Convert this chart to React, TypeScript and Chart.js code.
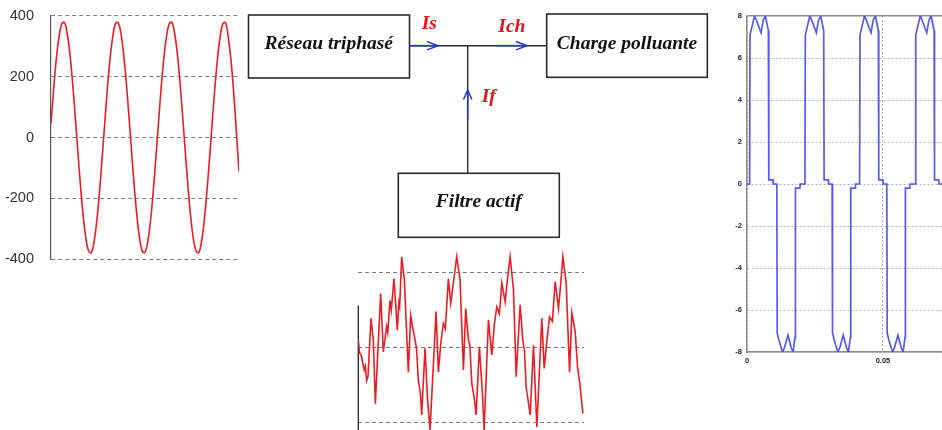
import React, { useEffect, useRef } from "react";
import { Chart, registerables } from "chart.js";

Chart.register(...registerables);

// ---------- Left: network voltage (V) vs time (ms) ----------
const sourceTimeMs = [
  0, 1, 2, 3, 4, 5, 6, 7, 8, 9, 10, 11, 12, 13, 14, 15, 16, 17, 18, 19,
  20, 21, 22, 23, 24, 25, 26, 27, 28, 29, 30, 31, 32, 33, 34, 35, 36, 37, 38, 39,
  40, 41, 42, 43, 44, 45, 46, 47, 48, 49, 50, 51, 52, 53, 54, 55, 56, 57, 58, 59,
  60, 61, 62, 63, 64, 65, 66, 67, 68, 69, 70,
];
const sourceVoltage = [
  46, 161, 259, 332, 373, 378, 344, 278, 184, 72, -46, -161, -259, -332, -373, -378, -344, -278, -184, -72,
  46, 161, 259, 332, 374, 377, 344, 277, 184, 72, -46, -161, -259, -332, -374, -377, -344, -278, -184, -72,
  46, 161, 259, 332, 373, 378, 344, 278, 184, 72, -46, -161, -259, -332, -373, -378, -344, -278, -184, -72,
  46, 161, 259, 332, 374, 377, 330, 255, 150, 20, -112,
];
const sourceVoltageTicks = [-400, -200, 0, 200, 400];

// ---------- Bottom middle: active filter current (p.u.) vs time (ms) ----------
const filterTimeMs = [
  0, 0.4, 1.2, 1.6, 2.2, 2.6, 3.09, 3.6, 4.69, 5.56, 6.3, 8.27, 9.26, 10.0, 10.49, 10.9, 11.73, 12.2, 13.21, 14.44, 15.0, 15.3, 16.05,
  17.04, 18.52, 19.38, 20.2, 20.99, 21.5, 22.22, 23.0, 23.46, 24.69, 25.56, 26.54, 28.77, 29.63, 30.5, 31.48, 32.2, 33.33, 34.2, 35.5, 36.42,
  37.65, 38.89, 39.75, 40.74, 41.3, 41.98, 43.0, 43.58, 44.81, 45.93, 46.54, 48.15, 49.38, 50.3, 51.23, 52.2, 53.09, 54.32, 55.3, 56.17,
  57.41, 58.4, 59.88, 60.86, 61.5, 62.1, 63.0, 63.58, 64.81, 66.05, 67.9, 68.77, 69.8, 70.74, 71.8, 72.84, 74.07, 75.0, 75.68, 76.91,
  78.15, 79.01, 80.25, 81.11, 82.0, 83.09,
];
const filterCurrent = [
  0.1, -0.06, -0.12, -0.2, -0.3, -0.25, -0.44, -0.38, 0.39, 0.1, -0.75, 0.72, -0.06, 0.15, 0.28, 0.2, 0.63, 0.5, 0.92, 0.23, 0.6, 0.55, 1.21,
  0.9, -0.33, 0.43, 0.25, 0.1, 0.0, -0.44, -0.62, -0.9, -0.01, -0.66, -1.1, 0.48, -0.33, 0.05, 0.32, 0.25, 0.92, 0.59, 0.95, 1.21,
  0.9, -0.3, 0.52, 0.1, 0.02, -0.48, -0.7, -0.9, 0.01, -0.62, -1.1, 0.37, -0.1, 0.3, 0.54, 0.45, 0.86, 0.61, 0.95, 1.21,
  0.77, -0.39, 0.57, 0.1, -0.05, -0.53, -0.75, -0.9, 0.03, -1.06, 0.39, -0.28, 0.1, 0.41, 0.35, 0.88, 0.52, 0.9, 1.21, 0.86,
  -0.33, 0.46, 0.21, -0.26, -0.5, -0.88,
];
const filterGridValues = [-1, 0, 1];

// ---------- Right: polluting load current (A) vs time (ms) ----------
const loadTimeMs = [
  0, 0.96, 1.11, 1.66, 2.76, 3.46, 5.16, 5.96, 6.76, 7.86, 8.01, 9.56, 9.66, 10.96, 11.11, 11.66, 13.06, 13.76, 15.06, 16.26, 16.96, 17.66, 17.81, 19.46, 19.56,
  21.3, 21.45, 22.0, 23.1, 23.8, 25.5, 26.3, 27.1, 28.2, 28.35, 29.9, 30.0, 31.3, 31.45, 32.0, 33.4, 34.1, 35.4, 36.6, 37.3, 38.0, 38.15, 39.8, 39.9,
  41.4, 41.55, 42.1, 43.2, 43.9, 45.6, 46.4, 47.2, 48.3, 48.45, 50.0, 50.1, 51.4, 51.55, 52.1, 53.5, 54.2, 55.5, 56.7, 57.4, 58.1, 58.25, 59.9, 60.0,
  61.9, 62.05, 62.6, 63.7, 64.4, 66.1, 66.9, 67.7, 68.8, 68.95, 70.5, 70.6, 71.9,
];
const loadCurrent = [
  0, 0, 7.1, 7.4, 8, 7.8, 7.2, 7.8, 8, 7.3, 0.2, 0.2, 0, 0, -7.1, -7.4, -8, -7.8, -7.2, -7.8, -8, -7.3, -0.2, -0.2, 0,
  0, 7.1, 7.4, 8, 7.8, 7.2, 7.8, 8, 7.3, 0.2, 0.2, 0, 0, -7.1, -7.4, -8, -7.8, -7.2, -7.8, -8, -7.3, -0.2, -0.2, 0,
  0, 7.1, 7.4, 8, 7.8, 7.2, 7.8, 8, 7.3, 0.2, 0.2, 0, 0, -7.1, -7.4, -8, -7.8, -7.2, -7.8, -8, -7.3, -0.2, -0.2, 0,
  0, 7.1, 7.4, 8, 7.8, 7.2, 7.8, 8, 7.3, 0.2, 0.2, 0, 0,
];
const loadCurrentTicks = [-8, -6, -4, -2, 0, 2, 4, 6, 8];
const loadTimeTicks = [0, 0.05];

// ---------- Block diagram texts ----------
const blockLabels = ["Réseau triphasé", "Charge polluante", "Filtre actif"];
const currentLabels = ["Is", "Ich", "If"];

const toPoints = (xs: number[], ys: number[], k = 1) => xs.map((x, i) => ({ x: x * k, y: ys[i] }));
const fixedTicks = (values: number[]) => (scale: any) => {
  scale.ticks = values.map((v) => ({ value: v }));
};

export default function App() {
  const leftRef = useRef<HTMLCanvasElement | null>(null);
  const midRef = useRef<HTMLCanvasElement | null>(null);
  const rightRef = useRef<HTMLCanvasElement | null>(null);

  useEffect(() => {
    const charts: Chart[] = [];
    const base = {
      animation: false as const,
      responsive: false,
      events: [] as any[],
      plugins: { legend: { display: false }, tooltip: { enabled: false } },
    };

    if (leftRef.current) {
      charts.push(
        new Chart(leftRef.current, {
          type: "line",
          data: {
            datasets: [
              {
                data: toPoints(sourceTimeMs, sourceVoltage),
                borderColor: "#ec1c24",
                borderWidth: 1.6,
                pointRadius: 0,
                tension: 0.4,
                fill: false,
              },
            ],
          },
          options: {
            ...base,
            layout: { padding: { top: 0, right: 6, bottom: 0, left: 0 } },
            scales: {
              x: { type: "linear", display: false, min: 0, max: 70 },
              y: {
                type: "linear",
                min: -400,
                max: 400,
                afterBuildTicks: fixedTicks(sourceVoltageTicks),
                afterFit: (s: any) => {
                  s.width = 51;
                },
                grid: { color: "#7d7d7d", lineWidth: 1, drawTicks: false },
                border: { display: true, color: "#555", width: 1.2, dash: [4, 3] },
                ticks: {
                  padding: 17,
                  color: "#333",
                  font: { family: "'Liberation Sans', Arial, sans-serif", size: 14.5 },
                  callback: (v: any) => String(v),
                },
              },
            },
          } as any,
        })
      );
    }

    if (midRef.current) {
      const axisTopValue = 0.56;
      charts.push(
        new Chart(midRef.current, {
          type: "line",
          data: {
            datasets: [
              {
                data: toPoints(filterTimeMs, filterCurrent),
                borderColor: "#ec1c24",
                borderWidth: 1.6,
                pointRadius: 0,
                tension: 0,
                fill: false,
              },
            ],
          },
          options: {
            ...base,
            layout: { padding: { top: 10, right: 6, bottom: 0, left: 0 } },
            scales: {
              x: { type: "linear", display: false, min: 0, max: 83.5 },
              y: {
                type: "linear",
                min: -1.5,
                max: 1.3,
                afterBuildTicks: fixedTicks(filterGridValues),
                afterFit: (s: any) => {
                  s.width = 18.3;
                },
                grid: { color: "#7a7a7a", lineWidth: 1, drawTicks: false },
                border: { display: false, dash: [4, 3] },
                ticks: { display: false },
              },
            },
          } as any,
          plugins: [
            {
              id: "filterAxis",
              beforeDatasetsDraw(chart: any) {
                const { ctx, chartArea, scales } = chart;
                const yTop = scales.y.getPixelForValue(axisTopValue);
                ctx.save();
                ctx.strokeStyle = "#222";
                ctx.lineWidth = 1.3;
                ctx.beginPath();
                ctx.moveTo(chartArea.left, yTop);
                ctx.lineTo(chartArea.left, chartArea.bottom);
                ctx.stroke();
                ctx.restore();
              },
            },
          ],
        })
      );
    }

    if (rightRef.current) {
      const tickFont = { family: "'Liberation Sans', Arial, sans-serif", size: 7.5, weight: "bold" };
      charts.push(
        new Chart(rightRef.current, {
          type: "line",
          data: {
            datasets: [
              {
                data: toPoints(loadTimeMs, loadCurrent, 0.001),
                borderColor: "rgba(60,60,235,0.85)",
                borderWidth: 1.7,
                pointRadius: 0,
                tension: 0,
                fill: false,
              },
            ],
          },
          options: {
            ...base,
            layout: { padding: { top: 16, right: 0, bottom: 0, left: 0 } },
            scales: {
              x: {
                type: "linear",
                min: 0,
                max: 0.0717,
                afterBuildTicks: fixedTicks(loadTimeTicks),
                afterFit: (s: any) => {
                  s.height = 20;
                },
                grid: { color: "#b0b0b0", lineWidth: 1, drawTicks: false },
                border: { display: true, color: "#8c8c8c", width: 1.5, dash: [2, 2] },
                ticks: { padding: 4, color: "#222", font: tickFont, callback: (v: any) => String(v), maxRotation: 0 },
              },
              y: {
                type: "linear",
                min: -8,
                max: 8,
                afterBuildTicks: fixedTicks(loadCurrentTicks),
                afterFit: (s: any) => {
                  s.width = 27;
                },
                grid: {
                  color: (c: any) => (c.tick && c.tick.value === 8 ? "#8c8c8c" : "#b0b0b0"),
                  lineWidth: (c: any) => (c.tick && c.tick.value === 8 ? 1.5 : 1),
                  drawTicks: false,
                },
                border: {
                  display: true,
                  color: "#8c8c8c",
                  width: 1.5,
                  dash: (c: any) => (c.tick && c.tick.value === 8 ? [] : [2, 2]),
                },
                ticks: { padding: 5, color: "#222", font: tickFont, callback: (v: any) => String(v) },
              },
            },
          } as any,
        })
      );
    }

    return () => {
      charts.forEach((c) => c.destroy());
    };
  }, []);

  const ink = "#2b2b2b";
  const blue = "#2337c6";
  const red = "#e5121d";
  const serif = "'Liberation Serif', 'Times New Roman', serif";

  return (
    <div
      style={{
        position: "fixed",
        left: 0,
        top: 0,
        width: 942,
        height: 430,
        overflow: "hidden",
        background: "#ffffff",
      }}
    >
      <canvas ref={leftRef} width={245} height={295} style={{ position: "absolute", left: 0, top: -10 }} />
      <canvas ref={midRef} width={250} height={220} style={{ position: "absolute", left: 340, top: 240 }} />
      <canvas ref={rightRef} width={222} height={372} style={{ position: "absolute", left: 720, top: 0 }} />
      <svg
        width={942}
        height={430}
        style={{ position: "absolute", left: 0, top: 0, pointerEvents: "none" }}
      >
        <rect x={248.5} y={15} width={161} height={63} fill="none" stroke={ink} strokeWidth={1.6} />
        <rect x={546.7} y={14} width={160.6} height={63.3} fill="none" stroke={ink} strokeWidth={1.6} />
        <rect x={398.3} y={173.3} width={161} height={64} fill="none" stroke={ink} strokeWidth={1.6} />

        <line x1={409.5} y1={45.7} x2={546.7} y2={45.7} stroke={ink} strokeWidth={1.4} />
        <line x1={467.7} y1={45.7} x2={467.7} y2={173.3} stroke={ink} strokeWidth={1.4} />

        <line x1={409.5} y1={45.7} x2={438} y2={45.7} stroke={blue} strokeWidth={1.6} />
        <polyline points="427,41.5 438,45.7 427,49.9" fill="none" stroke={blue} strokeWidth={1.5} />
        <line x1={496} y1={45.7} x2={527} y2={45.7} stroke={blue} strokeWidth={1.6} />
        <polyline points="516,41.5 527,45.7 516,49.9" fill="none" stroke={blue} strokeWidth={1.5} />
        <line x1={467.7} y1={90} x2={467.7} y2={120} stroke={blue} strokeWidth={1.6} />
        <polyline points="463.5,99.5 467.7,90 471.9,99.5" fill="none" stroke={blue} strokeWidth={1.5} />

        <g fontFamily={serif} fontStyle="italic" fontWeight="bold" fontSize={19.5} fill="#111">
          <text x={328.8} y={48.5} textAnchor="middle">{blockLabels[0]}</text>
          <text x={627} y={49.3} textAnchor="middle">{blockLabels[1]}</text>
          <text x={478.8} y={206.5} textAnchor="middle">{blockLabels[2]}</text>
        </g>
        <g fontFamily={serif} fontStyle="italic" fontWeight="bold" fontSize={19.5} fill={red}>
          <text x={421.7} y={28.5}>{currentLabels[0]}</text>
          <text x={498.3} y={31.7}>{currentLabels[1]}</text>
          <text x={481.7} y={101.7}>{currentLabels[2]}</text>
        </g>
      </svg>
    </div>
  );
}
